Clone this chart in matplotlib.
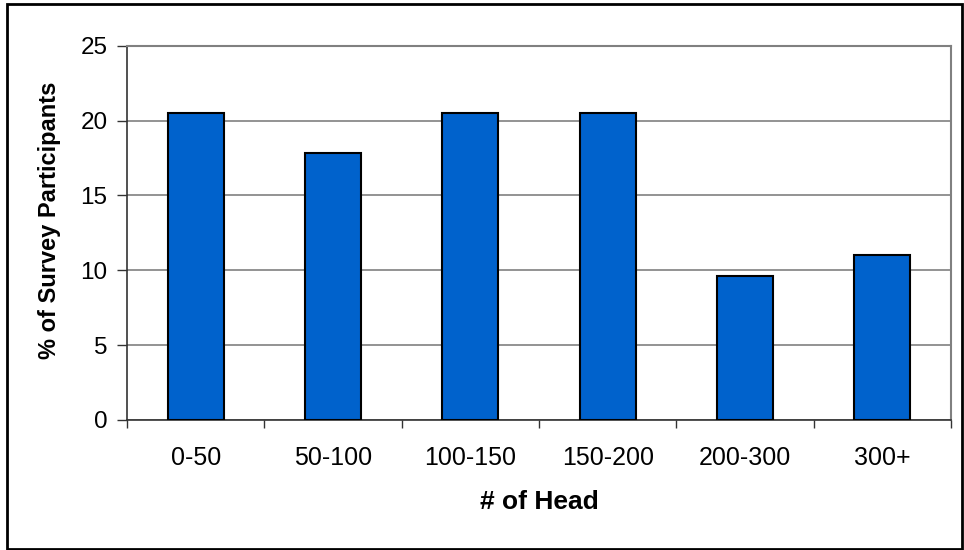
import matplotlib
matplotlib.use("Agg")
import matplotlib.pyplot as plt
from matplotlib.patches import Rectangle

categories = ["0-50", "50-100", "100-150", "150-200", "200-300", "300+"]
values = [20.5, 17.8, 20.5, 20.5, 9.6, 11.0]
yticks = [0, 5, 10, 15, 20, 25]

plt.rcParams['font.family'] = ['Liberation Sans', 'DejaVu Sans']

W, H = 964, 550
fig = plt.figure(figsize=(W/100, H/100), dpi=100)
ax = fig.add_axes([127/W, 1-420/H, (951-127)/W, (420-45.7)/H])

x = list(range(len(categories)))
ax.bar(x, values, width=0.41, color='#0062CC', edgecolor='black', linewidth=1.5, zorder=3)

ax.set_xlim(-0.5, len(categories)-0.5)
ax.set_ylim(0, 25)
ax.set_yticks(yticks)
ax.set_yticklabels([str(t) for t in yticks])
ax.yaxis.grid(True, color='#808080', linewidth=1.2, zorder=0)
ax.set_axisbelow(True)

ax.set_xticks([i + 0.5 for i in range(-1, len(categories))])
ax.set_xticklabels([])
ax.set_xticks(x, minor=True)
ax.set_xticklabels(categories, minor=True)
ax.tick_params(axis='x', which='minor', length=0, pad=19, labelsize=18)
ax.tick_params(axis='x', which='major', length=6, width=1, color='#333333', direction='out')
ax.tick_params(axis='y', length=7, width=1, color='#333333', labelsize=17.5, pad=7)

for s in ['top', 'right']:
    ax.spines[s].set_color('#808080')
    ax.spines[s].set_linewidth(1.5)
for s in ['left', 'bottom']:
    ax.spines[s].set_color('#333333')
    ax.spines[s].set_linewidth(1.2)

fig.text(50/W, 1-220/H, '% of Survey Participants', fontsize=17, fontweight='bold',
         rotation=90, ha='center', va='center')
fig.text(539/W, 1-502/H, '# of Head', fontsize=19, fontweight='bold',
         ha='center', va='center')

fig.patches.append(Rectangle((7/W, 1-549/H), (962-7)/W, (549-4)/H,
                             transform=fig.transFigure, fill=False,
                             edgecolor='black', linewidth=2))

fig.savefig('out.png', dpi=100)
